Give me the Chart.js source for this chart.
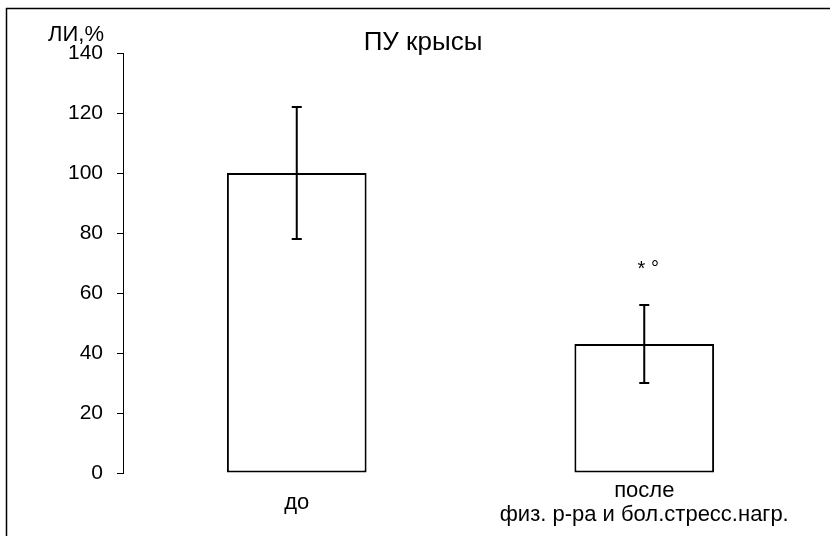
<!DOCTYPE html>
<html>
<head>
<meta charset="utf-8">
<script src="https://cdn.jsdelivr.net/npm/chart.js@4"></script>
<style>
  html, body { margin: 0; padding: 0; background: #fff; }
  #wrap { width: 830px; height: 536px; }
</style>
</head>
<body>
<div id="wrap"><canvas id="barChart"></canvas></div>
<script>
const categories = ["до", ["после", "физ. р-ра и бол.стресс.нагр."]];
const means = [100, 43];
const errLow = [78, 30];
const errHigh = [122, 56];
const marks = ["", "* °"];
const markValues = [null, 68];
const yTicks = [0, 20, 40, 60, 80, 100, 120, 140];

const fontName = "'Liberation Sans', Arial, sans-serif";
const ctx = document.getElementById("barChart").getContext("2d");

// frame, title and axis caption
const decorPlugin = {
  id: "decor",
  beforeDraw(chart) {
    const c = chart.ctx;
    c.save();
    c.fillStyle = "#fff";
    c.fillRect(0, 0, chart.width, chart.height);
    c.strokeStyle = "#000";
    c.lineWidth = 1.5;
    c.beginPath();
    c.moveTo(6.5, chart.height);
    c.lineTo(6.5, 8.5);
    c.lineTo(chart.width, 8.5);
    c.stroke();
    c.restore();
  },
  afterDraw(chart) {
    const c = chart.ctx;
    c.save();
    c.fillStyle = "#000";
    c.textBaseline = "alphabetic";
    c.textAlign = "center";
    c.font = "26px " + fontName;
    c.fillText("ПУ крысы", 423, 50);
    c.textAlign = "right";
    c.font = "22px " + fontName;
    c.fillText("ЛИ,%", 104, 41);
    c.restore();
  },
};

// error bars and significance marks
const errorPlugin = {
  id: "errors",
  afterDatasetsDraw(chart) {
    const c = chart.ctx;
    const y = chart.scales.y;
    const meta = chart.getDatasetMeta(0);
    c.save();
    c.strokeStyle = "#000";
    c.lineWidth = 2;
    meta.data.forEach((bar, i) => {
      const x = bar.x;
      const top = y.getPixelForValue(errHigh[i]);
      const bot = y.getPixelForValue(errLow[i]);
      c.beginPath();
      c.moveTo(x, top);
      c.lineTo(x, bot);
      c.moveTo(x - 5, top);
      c.lineTo(x + 5, top);
      c.moveTo(x - 5, bot);
      c.lineTo(x + 5, bot);
      c.stroke();
      if (marks[i]) {
        c.fillStyle = "#000";
        c.font = "20px " + fontName;
        c.textAlign = "center";
        c.textBaseline = "middle";
        c.fillText(marks[i], x + 4, y.getPixelForValue(markValues[i]));
      }
    });
    c.restore();
  },
};

new Chart(ctx, {
  type: "bar",
  data: {
    labels: categories,
    datasets: [
      {
        data: means,
        backgroundColor: "#fff",
        borderColor: "#000",
        borderWidth: 2,
        borderSkipped: false,
        barPercentage: 0.402,
        categoryPercentage: 1,
      },
    ],
  },
  options: {
    responsive: true,
    maintainAspectRatio: false,
    animation: false,
    layout: {
      padding: { left: 0, right: 12, top: 53, bottom: 0 },
    },
    plugins: {
      legend: { display: false },
      tooltip: { enabled: false },
      title: { display: false },
    },
    scales: {
      x: {
        grid: { display: false },
        border: { display: false },
        afterFit(scale) {
          scale.height = 63;
        },
        ticks: {
          color: "#000",
          padding: 10,
          crossAlign: "center",
          maxRotation: 0,
          autoSkip: false,
          font: { family: fontName, size: 22, lineHeight: 1.09 },
        },
      },
      y: {
        min: 0,
        max: 140,
        afterFit(scale) {
          scale.width = 123;
        },
        afterBuildTicks(scale) {
          scale.ticks = yTicks.map((v) => ({ value: v }));
        },
        grid: {
          drawOnChartArea: false,
          drawTicks: true,
          tickLength: 6,
          color: "#000",
          lineWidth: 1,
        },
        border: { display: true, color: "#000", width: 1 },
        ticks: {
          color: "#000",
          padding: 14,
          font: { family: fontName, size: 21 },
        },
      },
    },
  },
  plugins: [decorPlugin, errorPlugin],
});
</script>
</body>
</html>
